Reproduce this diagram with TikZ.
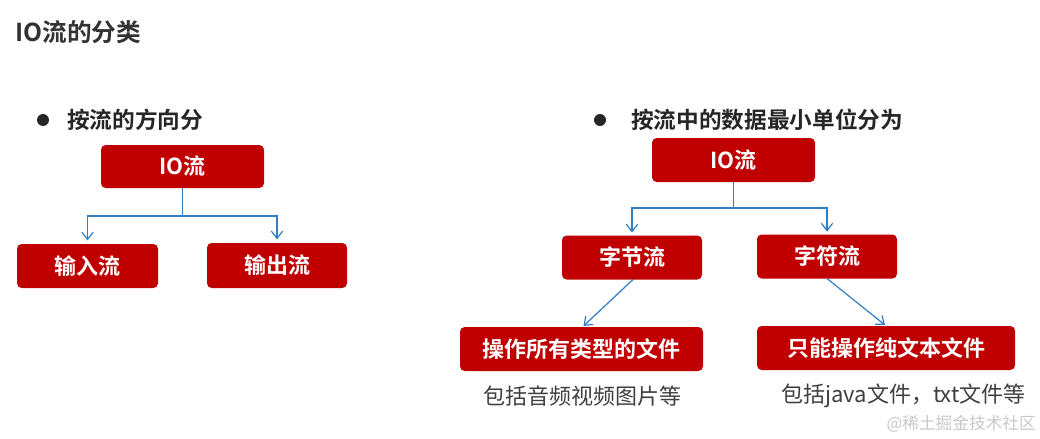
\documentclass[tikz,border=0pt]{standalone}
\usepackage{fontspec}
\usetikzlibrary{arrows.meta}
\newfontfamily\cjk{Noto Sans CJK SC}
\newfontfamily\cjkb{Noto Sans CJK SC Bold}
\definecolor{boxred}{HTML}{C00000}
\definecolor{linkblue}{HTML}{2F7EC4}
\definecolor{titlegray}{HTML}{333333}
\definecolor{textgray}{HTML}{3F3F3F}
\definecolor{wmgray}{HTML}{C8C8C8}
\tikzset{
  box/.style={fill=boxred, rounded corners=3.5pt, text=white, inner sep=0pt,
    font=\cjkb\fontsize{16.5}{17}\selectfont},
  conn/.style={draw=linkblue, line width=0.9pt, -{Straight Barb[length=5.5pt,width=8.5pt]}},
  bulletdot/.style={circle, fill=black!85, inner sep=0pt, minimum size=9pt},
  headtext/.style={text=black!85, inner sep=0pt, anchor=west, font=\cjkb\fontsize{17}{18}\selectfont},
  notetext/.style={text=textgray, inner sep=0pt, font=\cjk\fontsize{16.5}{17}\selectfont}
}
\begin{document}
\begin{tikzpicture}[x=0.75pt,y=-0.75pt]
\useasboundingbox (0,0) rectangle (1040,439);
% title
\node[anchor=west, inner sep=0pt, text=titlegray, font=\cjkb\fontsize{18.5}{19}\selectfont] (title) at (15,32) {IO流的分类};
% left part
\node[bulletdot] (b1) at (43,120) {};
\node[headtext] (h1) at (67,120) {按流的方向分};
\node[box, minimum width=122.25pt, minimum height=32.25pt] (ioL) at (182.5,166.5) {IO流};
\node[box, minimum width=105.75pt, minimum height=33pt] (inL) at (87.5,266) {输入流};
\node[box, minimum width=105pt, minimum height=33.75pt] (outL) at (277,265.5) {输出流};
\coordinate (jL) at (182.5,216);
\draw[conn, shorten >=2.5pt] (ioL.south) -- (jL) -| (inL.north);
\draw[conn, shorten >=2.5pt] (jL) -| (outL.north);
% right part
\node[bulletdot] (b2) at (600,120) {};
\node[headtext] (h2) at (631,120) {按流中的数据最小单位分为};
\node[box, minimum width=122.25pt, minimum height=33pt] (ioR) at (733.5,160) {IO流};
\node[box, minimum width=105pt, minimum height=33pt] (byte) at (632,257.5) {字节流};
\node[box, minimum width=105pt, minimum height=33pt] (chr) at (827,256.5) {字符流};
\node[box, minimum width=182.25pt, minimum height=33pt] (ops1) at (581.5,349) {操作所有类型的文件};
\node[box, minimum width=193.5pt, minimum height=33pt] (ops2) at (886,348) {只能操作纯文本文件};
\coordinate (jR) at (733.5,208);
\draw[conn, shorten >=2pt] (ioR.south) -- (jR) -| (byte.north);
\draw[conn, shorten >=2pt] (jR) -| (chr.north);
\coordinate (d1) at (633,279.5);
\coordinate (d2) at (827,278.5);
\draw[conn] (d1) -- (583.5,326) coordinate (d1e);
\draw[conn] (d2) -- (885,325) coordinate (d2e);
% notes
\node[notetext] (n1) at (582,396) {包括音频视频图片等};
\node[notetext, anchor=west] (n2) at (781,396) {包括java文件，txt文件等};
% watermark
\node[anchor=east, inner sep=0pt, text=wmgray, font=\cjk\fontsize{12.5}{13}\selectfont] (wm) at (1036,424) {@稀土掘金技术社区};
\end{tikzpicture}
\end{document}
